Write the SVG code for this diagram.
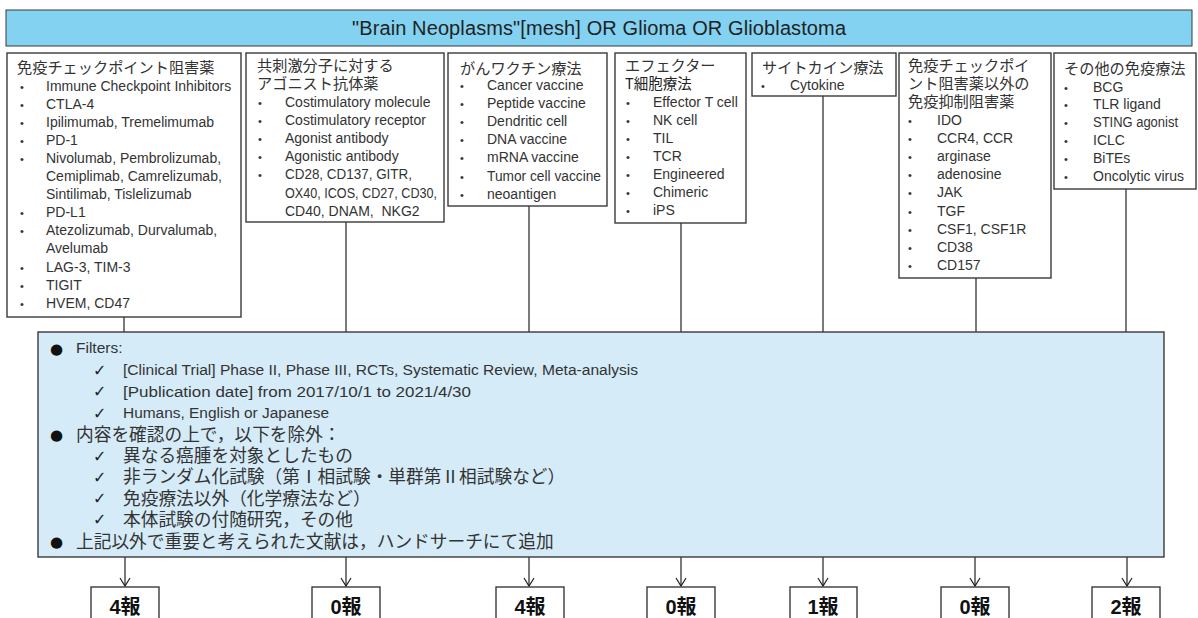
<svg xmlns="http://www.w3.org/2000/svg" width="1198" height="618" viewBox="0 0 1198 618">
<defs>
<style>
.box{fill:#fff;stroke:#3a3a3a;stroke-width:1.4}
.hdr{fill:#83D2F2;stroke:#3a3a3a;stroke-width:1}
.flt{fill:#D5EBF8;stroke:#3a3a3a;stroke-width:1.4}
.res{fill:#fff;stroke:#3a3a3a;stroke-width:1.4}
.ln{stroke:#222;stroke-width:1.2;fill:none}
text{font-family:"Liberation Sans","Noto Sans CJK JP",sans-serif;fill:#333}
.t{font-size:15.2px;font-family:"Noto Sans CJK JP","Noto Sans",sans-serif}
.i{font-size:14px}
.b{font-size:11px}
.fl{font-size:15.5px}
.fj{font-size:17.7px;font-family:"Noto Sans CJK JP",sans-serif}
.ck{font-size:16px;font-family:"DejaVu Sans",sans-serif;fill:#222}
.dot{font-size:15px;font-family:"DejaVu Sans",sans-serif;fill:#111}
.num{font-size:20px;font-weight:bold;fill:#111;text-anchor:middle}
.h{font-size:20px;text-anchor:middle;fill:#222}
</style>
</defs>

<g id="header">
<rect class="hdr" x="6" y="10" width="1186" height="36"/>
<text class="h" x="599" y="35" textLength="494">"Brain Neoplasms"[mesh] OR Glioma OR Glioblastoma</text>
</g>

<g id="connectors">
<line class="ln" x1="124" y1="317" x2="124" y2="332"/>
<line class="ln" x1="346" y1="222" x2="346" y2="332"/>
<line class="ln" x1="529" y1="206" x2="529" y2="332"/>
<line class="ln" x1="681" y1="223" x2="681" y2="332"/>
<line class="ln" x1="823" y1="96" x2="823" y2="332"/>
<line class="ln" x1="976" y1="278" x2="976" y2="332"/>
<line class="ln" x1="1126" y1="189" x2="1126" y2="332"/>
<line class="ln" x1="125" y1="557" x2="125" y2="586"/><path class="ln" d="M120,578 L125,586 L130,578"/>
<line class="ln" x1="346" y1="557" x2="346" y2="586"/><path class="ln" d="M341,578 L346,586 L351,578"/>
<line class="ln" x1="529" y1="557" x2="529" y2="586"/><path class="ln" d="M524,578 L529,586 L534,578"/>
<line class="ln" x1="681" y1="557" x2="681" y2="586"/><path class="ln" d="M676,578 L681,586 L686,578"/>
<line class="ln" x1="823" y1="557" x2="823" y2="586"/><path class="ln" d="M818,578 L823,586 L828,578"/>
<line class="ln" x1="975" y1="557" x2="975" y2="586"/><path class="ln" d="M970,578 L975,586 L980,578"/>
<line class="ln" x1="1127" y1="557" x2="1127" y2="586"/><path class="ln" d="M1122,578 L1127,586 L1132,578"/>
</g>

<g id="col1">
<rect class="box" x="7" y="53" width="234" height="264"/>
<text class="t" x="17" y="72.5">免疫チェックポイント阻害薬</text>
<g class="b"><text x="20" y="90.5">•</text><text x="20" y="108.6">•</text><text x="20" y="126.7">•</text><text x="20" y="144.8">•</text><text x="20" y="162.9">•</text><text x="20" y="217.2">•</text><text x="20" y="235.3">•</text><text x="20" y="271.5">•</text><text x="20" y="289.6">•</text><text x="20" y="307.7">•</text></g>
<g class="i">
<text x="46" y="90.5">Immune Checkpoint Inhibitors</text>
<text x="46" y="108.6">CTLA-4</text>
<text x="46" y="126.7">Ipilimumab, Tremelimumab</text>
<text x="46" y="144.8">PD-1</text>
<text x="46" y="162.9">Nivolumab, Pembrolizumab,</text>
<text x="46" y="181">Cemiplimab, Camrelizumab,</text>
<text x="46" y="199.1">Sintilimab, Tislelizumab</text>
<text x="46" y="217.2">PD-L1</text>
<text x="46" y="235.3">Atezolizumab, Durvalumab,</text>
<text x="46" y="253.4">Avelumab</text>
<text x="46" y="271.5">LAG-3, TIM-3</text>
<text x="46" y="289.6">TIGIT</text>
<text x="46" y="307.7">HVEM, CD47</text>
</g>
</g>

<g id="col2">
<rect class="box" x="246" y="53" width="198" height="169"/>
<text class="t" x="257" y="70.5">共刺激分子に対する</text>
<text class="t" x="257" y="88.5">アゴニスト抗体薬</text>
<g class="b"><text x="258" y="107">•</text><text x="258" y="125.1">•</text><text x="258" y="143.2">•</text><text x="258" y="161.3">•</text><text x="258" y="179.4">•</text></g>
<g class="i">
<text x="285" y="107">Costimulatory molecule</text>
<text x="285" y="125.1">Costimulatory receptor</text>
<text x="285" y="143.2">Agonist antibody</text>
<text x="285" y="161.3">Agonistic antibody</text>
<text x="285" y="179.4" textLength="127" lengthAdjust="spacingAndGlyphs">CD28, CD137, GITR,</text>
<text x="285" y="197.5" textLength="152" lengthAdjust="spacingAndGlyphs">OX40, ICOS, CD27, CD30,</text>
<text x="285" y="215.6">CD40, DNAM,&#160; NKG2</text>
</g>
</g>

<g id="col3">
<rect class="box" x="448" y="53" width="159" height="153"/>
<text class="t" x="460" y="73.5">がんワクチン療法</text>
<g class="b"><text x="460" y="90">•</text><text x="460" y="108.1">•</text><text x="460" y="126.2">•</text><text x="460" y="144.3">•</text><text x="460" y="162.4">•</text><text x="460" y="180.5">•</text><text x="460" y="198.6">•</text></g>
<g class="i">
<text x="487" y="90">Cancer vaccine</text>
<text x="487" y="108.1">Peptide vaccine</text>
<text x="487" y="126.2">Dendritic cell</text>
<text x="487" y="144.3">DNA vaccine</text>
<text x="487" y="162.4">mRNA vaccine</text>
<text x="487" y="180.5" textLength="114" lengthAdjust="spacingAndGlyphs">Tumor cell vaccine</text>
<text x="487" y="198.6">neoantigen</text>
</g>
</g>

<g id="col4">
<rect class="box" x="615" y="53" width="131" height="170"/>
<text class="t" x="625" y="70.5">エフェクター</text>
<text class="t" x="625" y="88.5" style="font-size:14.5px;fill:#222">T細胞療法</text>
<g class="b"><text x="626" y="106.7">•</text><text x="626" y="124.8">•</text><text x="626" y="142.9">•</text><text x="626" y="161">•</text><text x="626" y="179.1">•</text><text x="626" y="197.2">•</text><text x="626" y="215.3">•</text></g>
<g class="i">
<text x="653" y="106.7">Effector T cell</text>
<text x="653" y="124.8">NK cell</text>
<text x="653" y="142.9">TIL</text>
<text x="653" y="161">TCR</text>
<text x="653" y="179.1">Engineered</text>
<text x="653" y="197.2">Chimeric</text>
<text x="653" y="215.3">iPS</text>
</g>
</g>

<g id="col5">
<rect class="box" x="752" y="53" width="144" height="43"/>
<text class="t" x="762" y="72.5">サイトカイン療法</text>
<text class="b" x="761" y="90">•</text>
<text class="i" x="790" y="90">Cytokine</text>
</g>

<g id="col6">
<rect class="box" x="899" y="53" width="152" height="225"/>
<text class="t" x="908" y="70.5">免疫チェックポイ</text>
<text class="t" x="908" y="88.5">ント阻害薬以外の</text>
<text class="t" x="908" y="107">免疫抑制阻害薬</text>
<g class="b"><text x="908" y="125">•</text><text x="908" y="143.1">•</text><text x="908" y="161.2">•</text><text x="908" y="179.3">•</text><text x="908" y="197.4">•</text><text x="908" y="215.5">•</text><text x="908" y="233.6">•</text><text x="908" y="251.7">•</text><text x="908" y="269.8">•</text></g>
<g class="i">
<text x="937" y="125">IDO</text>
<text x="937" y="143.1">CCR4, CCR</text>
<text x="937" y="161.2">arginase</text>
<text x="937" y="179.3">adenosine</text>
<text x="937" y="197.4">JAK</text>
<text x="937" y="215.5">TGF</text>
<text x="937" y="233.6">CSF1, CSF1R</text>
<text x="937" y="251.7">CD38</text>
<text x="937" y="269.8">CD157</text>
</g>
</g>

<g id="col7">
<rect class="box" x="1054" y="53" width="142" height="136"/>
<text class="t" x="1064" y="74">その他の免疫療法</text>
<g class="b"><text x="1064" y="91.5">•</text><text x="1064" y="108.5">•</text><text x="1064" y="126.6">•</text><text x="1064" y="144.7">•</text><text x="1064" y="162.8">•</text><text x="1064" y="180.9">•</text></g>
<g class="i">
<text x="1093" y="91.5">BCG</text>
<text x="1093" y="108.5">TLR ligand</text>
<text x="1093" y="126.6" textLength="85" lengthAdjust="spacingAndGlyphs">STING agonist</text>
<text x="1093" y="144.7">ICLC</text>
<text x="1093" y="162.8">BiTEs</text>
<text x="1093" y="180.9">Oncolytic virus</text>
</g>
</g>

<g id="filters">
<rect class="flt" x="38" y="332" width="1126" height="225"/>
<text class="dot" x="50" y="353.5">●</text>
<text class="fl" x="76" y="353.3">Filters:</text>
<text class="ck" x="93" y="375.5">✓</text>
<text class="fl" x="123" y="375" textLength="515" lengthAdjust="spacingAndGlyphs">[Clinical Trial] Phase II, Phase III, RCTs, Systematic Review, Meta-analysis</text>
<text class="ck" x="93" y="397">✓</text>
<text class="fl" x="123" y="396.5" textLength="348" lengthAdjust="spacingAndGlyphs">[Publication date] from 2017/10/1 to 2021/4/30</text>
<text class="ck" x="93" y="418.5">✓</text>
<text class="fl" x="123" y="418" textLength="206" lengthAdjust="spacingAndGlyphs">Humans, English or Japanese</text>
<text class="dot" x="50" y="439.5">●</text>
<text class="fj" x="76" y="440.5">内容を確認の上で，以下を除外：</text>
<text class="ck" x="93" y="461.5">✓</text>
<text class="fj" x="123" y="462">異なる癌腫を対象としたもの</text>
<text class="ck" x="93" y="482.5">✓</text>
<text class="fj" x="123" y="483">非ランダム化試験（第Ⅰ相試験・単群第Ⅱ相試験など）</text>
<text class="ck" x="93" y="504">✓</text>
<text class="fj" x="123" y="504.5">免疫療法以外（化学療法など）</text>
<text class="ck" x="93" y="525">✓</text>
<text class="fj" x="123" y="525.5">本体試験の付随研究，その他</text>
<text class="dot" x="50" y="547">●</text>
<text class="fj" x="76" y="547.5">上記以外で重要と考えられた文献は，ハンドサーチにて追加</text>
</g>

<g id="r1"><rect class="res" x="91" y="587" width="68" height="40"/><text class="num" x="125" y="614">4報</text></g>
<g id="r2"><rect class="res" x="312" y="587" width="68" height="40"/><text class="num" x="346" y="614">0報</text></g>
<g id="r3"><rect class="res" x="496" y="587" width="68" height="40"/><text class="num" x="530" y="614">4報</text></g>
<g id="r4"><rect class="res" x="647" y="587" width="68" height="40"/><text class="num" x="681" y="614">0報</text></g>
<g id="r5"><rect class="res" x="790" y="587" width="67" height="40"/><text class="num" x="823" y="614">1報</text></g>
<g id="r6"><rect class="res" x="941" y="587" width="68" height="40"/><text class="num" x="975" y="614">0報</text></g>
<g id="r7"><rect class="res" x="1092" y="587" width="68" height="40"/><text class="num" x="1126" y="614">2報</text></g>
</svg>
